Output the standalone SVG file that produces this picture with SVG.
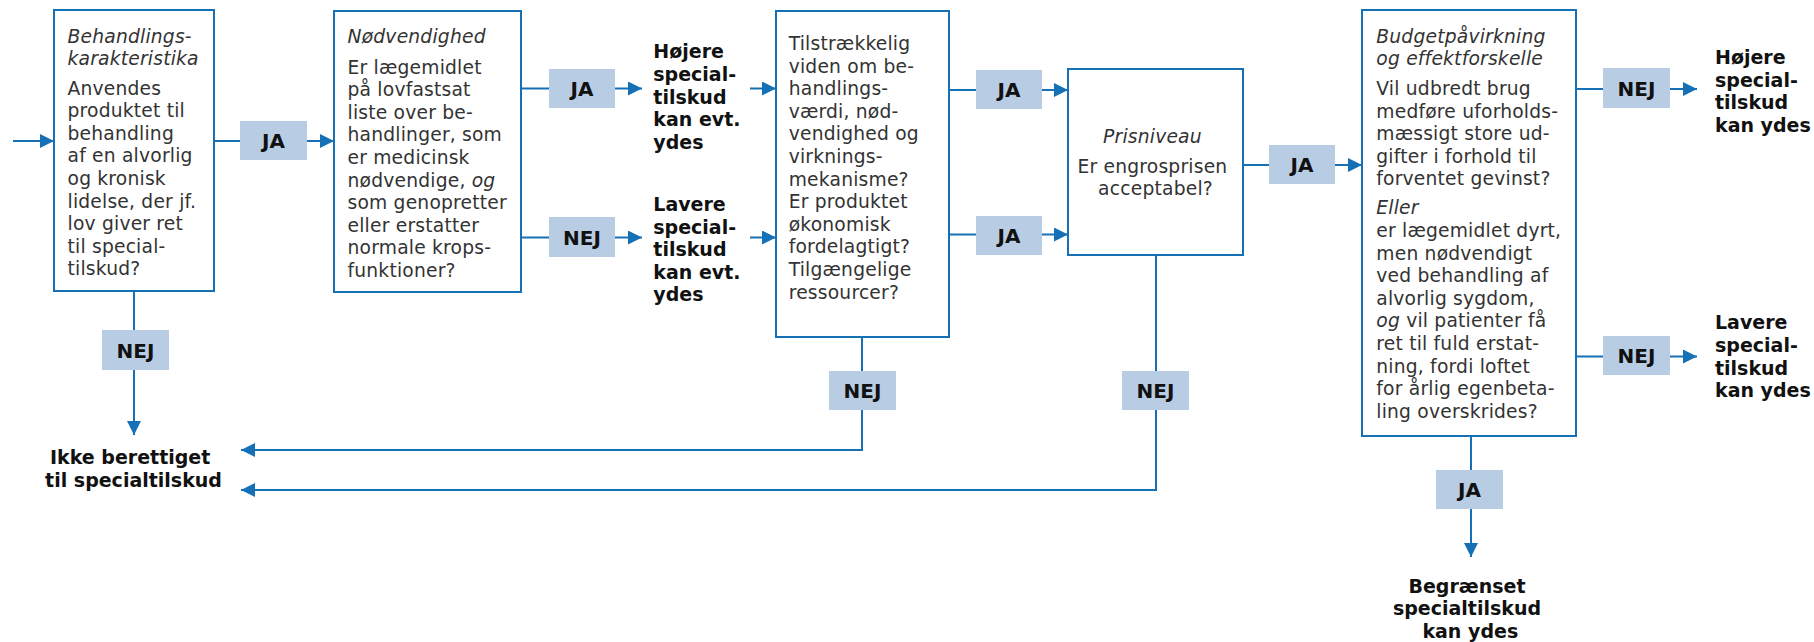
<svg xmlns="http://www.w3.org/2000/svg" width="1814" height="642" viewBox="0 0 1814 642">
  <style>
    .box { fill: #ffffff; stroke: #1570b5; stroke-width: 2; }
    .tag { fill: #b8cde4; }
    .tagtxt { font-family: "DejaVu Sans", Verdana, sans-serif; font-weight: bold; font-size: 20px; fill: #111; text-anchor: middle; }
    .body { font-family: "DejaVu Sans", Verdana, sans-serif; font-size: 18.7px; letter-spacing: 0.2px; fill: #333; }
    .it { font-style: italic; }
    .out { font-family: "DejaVu Sans", Verdana, sans-serif; font-weight: bold; font-size: 19px; fill: #111; }
    .mid { text-anchor: middle; }
    .wire { fill: none; stroke: #1570b5; stroke-width: 2; }
  </style>
  <defs>
    <marker id="arrow" markerUnits="userSpaceOnUse" markerWidth="14" markerHeight="14" refX="14" refY="7" orient="auto">
      <path d="M0,0 L14,7 L0,14 z" fill="#1570b5"/>
    </marker>
  </defs>

  <rect width="1814" height="642" fill="#ffffff"/>

  <!-- connectors -->
  <g id="connectors">
    <path class="wire" d="M13,141 H54" marker-end="url(#arrow)"/>
    <path class="wire" d="M214,141 H334" marker-end="url(#arrow)"/>
    <path class="wire" d="M521,88.5 H642" marker-end="url(#arrow)"/>
    <path class="wire" d="M521,237.5 H642" marker-end="url(#arrow)"/>
    <path class="wire" d="M750,88.5 H776" marker-end="url(#arrow)"/>
    <path class="wire" d="M750,237.5 H776" marker-end="url(#arrow)"/>
    <path class="wire" d="M949,90 H1068" marker-end="url(#arrow)"/>
    <path class="wire" d="M949,234.5 H1068" marker-end="url(#arrow)"/>
    <path class="wire" d="M1243,165 H1362" marker-end="url(#arrow)"/>
    <path class="wire" d="M1576,89 H1697" marker-end="url(#arrow)"/>
    <path class="wire" d="M1576,356.5 H1697" marker-end="url(#arrow)"/>
    <path class="wire" d="M1471,436 V557" marker-end="url(#arrow)"/>
    <path class="wire" d="M134,291 V435" marker-end="url(#arrow)"/>
    <path class="wire" d="M862,337 V450 H241" marker-end="url(#arrow)"/>
    <path class="wire" d="M1156,255 V490 H241" marker-end="url(#arrow)"/>

    <!-- decision labels -->
    <g id="label-ja-1"><rect class="tag" x="240" y="121" width="67" height="39"/><text class="tagtxt" x="273.5" y="148">JA</text></g>
    <g id="label-ja-2"><rect class="tag" x="549" y="69" width="66" height="39"/><text class="tagtxt" x="582" y="96">JA</text></g>
    <g id="label-nej-2"><rect class="tag" x="549" y="217" width="66" height="40"/><text class="tagtxt" x="582" y="244.5">NEJ</text></g>
    <g id="label-ja-3a"><rect class="tag" x="976" y="70" width="66" height="39"/><text class="tagtxt" x="1009" y="97">JA</text></g>
    <g id="label-ja-3b"><rect class="tag" x="976" y="216" width="66" height="39"/><text class="tagtxt" x="1009" y="243">JA</text></g>
    <g id="label-ja-4"><rect class="tag" x="1269" y="145" width="66" height="39"/><text class="tagtxt" x="1302" y="172">JA</text></g>
    <g id="label-nej-5a"><rect class="tag" x="1603" y="68" width="67" height="40"/><text class="tagtxt" x="1636.5" y="95.5">NEJ</text></g>
    <g id="label-nej-5b"><rect class="tag" x="1603" y="336" width="67" height="39"/><text class="tagtxt" x="1636.5" y="363">NEJ</text></g>
    <g id="label-ja-5"><rect class="tag" x="1436" y="470" width="67" height="39"/><text class="tagtxt" x="1469.5" y="497">JA</text></g>
    <g id="label-nej-1"><rect class="tag" x="102" y="330" width="67" height="40"/><text class="tagtxt" x="135.5" y="357.5">NEJ</text></g>
    <g id="label-nej-3"><rect class="tag" x="829" y="371" width="67" height="39"/><text class="tagtxt" x="862.5" y="398">NEJ</text></g>
    <g id="label-nej-4"><rect class="tag" x="1122" y="371" width="67" height="39"/><text class="tagtxt" x="1155.5" y="398">NEJ</text></g>
  </g>

  <!-- box 1 -->
  <g id="node-behandling">
    <rect class="box" x="54" y="10" width="160" height="281"/>
    <text class="body" x="67.5">
      <tspan class="it" x="67.5" y="43">Behandlings-</tspan>
      <tspan class="it" x="67.5" y="65">karakteristika</tspan>
      <tspan x="67.5" y="94.5">Anvendes</tspan>
      <tspan x="67.5" y="117.1">produktet til</tspan>
      <tspan x="67.5" y="139.7">behandling</tspan>
      <tspan x="67.5" y="162.3">af en alvorlig</tspan>
      <tspan x="67.5" y="184.9">og kronisk</tspan>
      <tspan x="67.5" y="207.5">lidelse, der jf.</tspan>
      <tspan x="67.5" y="230.1">lov giver ret</tspan>
      <tspan x="67.5" y="252.7">til special-</tspan>
      <tspan x="67.5" y="275.3">tilskud?</tspan>
    </text>
  </g>

  <!-- box 2 -->
  <g id="node-noedvendighed">
    <rect class="box" x="334" y="11" width="187" height="281"/>
    <text class="body" x="347.5">
      <tspan class="it" x="347.5" y="43.3">Nødvendighed</tspan>
      <tspan x="347.5" y="73.5">Er lægemidlet</tspan>
      <tspan x="347.5" y="96.1">på lovfastsat</tspan>
      <tspan x="347.5" y="118.7">liste over be-</tspan>
      <tspan x="347.5" y="141.3">handlinger, som</tspan>
      <tspan x="347.5" y="163.9">er medicinsk</tspan>
      <tspan x="347.5" y="186.5">nødvendige, <tspan class="it">og</tspan></tspan>
      <tspan x="347.5" y="209.1">som genopretter</tspan>
      <tspan x="347.5" y="231.7">eller erstatter</tspan>
      <tspan x="347.5" y="254.3">normale krops-</tspan>
      <tspan x="347.5" y="276.9">funktioner?</tspan>
    </text>
  </g>

  <!-- outcome texts after box 2 -->
  <g id="node-hoejere-evt">
    <text class="out" x="653.3">
      <tspan x="653.3" y="58.3">Højere</tspan>
      <tspan x="653.3" y="80.9">special-</tspan>
      <tspan x="653.3" y="103.5">tilskud</tspan>
      <tspan x="653.3" y="126.1">kan evt.</tspan>
      <tspan x="653.3" y="148.7">ydes</tspan>
    </text>
  </g>
  <g id="node-lavere-evt">
    <text class="out" x="653.3">
      <tspan x="653.3" y="211">Lavere</tspan>
      <tspan x="653.3" y="233.6">special-</tspan>
      <tspan x="653.3" y="256.2">tilskud</tspan>
      <tspan x="653.3" y="278.8">kan evt.</tspan>
      <tspan x="653.3" y="301.4">ydes</tspan>
    </text>
  </g>

  <!-- box 3 -->
  <g id="node-viden">
    <rect class="box" x="776" y="11" width="173" height="326"/>
    <text class="body" x="788.7">
      <tspan x="788.7" y="50">Tilstrækkelig</tspan>
      <tspan x="788.7" y="72.6">viden om be-</tspan>
      <tspan x="788.7" y="95.2">handlings-</tspan>
      <tspan x="788.7" y="117.8">værdi, nød-</tspan>
      <tspan x="788.7" y="140.4">vendighed og</tspan>
      <tspan x="788.7" y="163">virknings-</tspan>
      <tspan x="788.7" y="185.6">mekanisme?</tspan>
      <tspan x="788.7" y="208.2">Er produktet</tspan>
      <tspan x="788.7" y="230.8">økonomisk</tspan>
      <tspan x="788.7" y="253.4">fordelagtigt?</tspan>
      <tspan x="788.7" y="276">Tilgængelige</tspan>
      <tspan x="788.7" y="298.6">ressourcer?</tspan>
    </text>
  </g>

  <!-- box 4 -->
  <g id="node-prisniveau">
    <rect class="box" x="1068" y="69" width="175" height="186"/>
    <text class="body mid" x="1155.5">
      <tspan class="it" x="1155.5" y="143.3">Prisniveau</tspan>
      <tspan x="1155.5" y="172.5">Er engrosprisen</tspan>
      <tspan x="1155.5" y="195.1">acceptabel?</tspan>
    </text>
  </g>

  <!-- box 5 -->
  <g id="node-budget">
    <rect class="box" x="1362" y="10" width="214" height="426"/>
    <text class="body" x="1376.3">
      <tspan class="it" x="1376.3" y="42.7">Budgetpåvirkning</tspan>
      <tspan class="it" x="1376.3" y="65">og effektforskelle</tspan>
      <tspan x="1376.3" y="95">Vil udbredt brug</tspan>
      <tspan x="1376.3" y="117.6">medføre uforholds-</tspan>
      <tspan x="1376.3" y="140.2">mæssigt store ud-</tspan>
      <tspan x="1376.3" y="162.8">gifter i forhold til</tspan>
      <tspan x="1376.3" y="185.4">forventet gevinst?</tspan>
      <tspan class="it" x="1376.3" y="214.3">Eller</tspan>
      <tspan x="1376.3" y="236.9">er lægemidlet dyrt,</tspan>
      <tspan x="1376.3" y="259.5">men nødvendigt</tspan>
      <tspan x="1376.3" y="282.1">ved behandling af</tspan>
      <tspan x="1376.3" y="304.7">alvorlig sygdom,</tspan>
      <tspan x="1376.3" y="327.3"><tspan class="it">og</tspan> vil patienter få</tspan>
      <tspan x="1376.3" y="349.9">ret til fuld erstat-</tspan>
      <tspan x="1376.3" y="372.5">ning, fordi loftet</tspan>
      <tspan x="1376.3" y="395.1">for årlig egenbeta-</tspan>
      <tspan x="1376.3" y="417.7">ling overskrides?</tspan>
    </text>
  </g>

  <!-- outcome texts after box 5 -->
  <g id="node-hoejere">
    <text class="out" x="1715">
      <tspan x="1715" y="64">Højere</tspan>
      <tspan x="1715" y="86.6">special-</tspan>
      <tspan x="1715" y="109.2">tilskud</tspan>
      <tspan x="1715" y="131.8">kan ydes</tspan>
    </text>
  </g>
  <g id="node-lavere">
    <text class="out" x="1715">
      <tspan x="1715" y="329.3">Lavere</tspan>
      <tspan x="1715" y="351.9">special-</tspan>
      <tspan x="1715" y="374.5">tilskud</tspan>
      <tspan x="1715" y="397.1">kan ydes</tspan>
    </text>
  </g>
  <g id="node-begraenset">
    <text class="out mid" x="1470.3">
      <tspan x="1470.3" y="592.7">Begrænset</tspan>
      <tspan x="1470.3" y="615.3">specialtilskud</tspan>
      <tspan x="1470.3" y="637.9">kan ydes</tspan>
    </text>
  </g>
  <g id="node-ikke-berettiget">
    <text class="out mid" x="133.5">
      <tspan x="133.5" y="464.3">Ikke berettiget</tspan>
      <tspan x="133.5" y="486.9">til specialtilskud</tspan>
    </text>
  </g>
</svg>
